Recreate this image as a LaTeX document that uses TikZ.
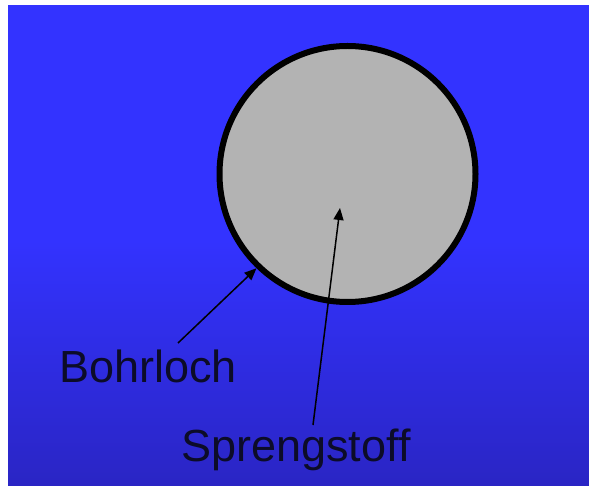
\documentclass[tikz,border=0pt]{standalone}
\usepackage{fontspec}
\setmainfont{Liberation Sans}
\usetikzlibrary{arrows.meta}
\definecolor{bgtop}{RGB}{51,51,255}
\definecolor{bgbot}{RGB}{42,37,196}
\definecolor{holefill}{RGB}{179,179,179}
\definecolor{labeltext}{RGB}{12,12,40}
\tikzset{
  lbl/.style={anchor=base west, inner sep=0pt, font=\fontsize{45}{52}\selectfont, text=labeltext},
  pointer/.style={line width=1.5pt, draw=black, -{Triangle[length=12pt,width=10pt]}},
}
\begin{document}
\begin{tikzpicture}[x=1pt,y=-1pt]
\useasboundingbox (0,0) rectangle (589,486);
\fill[white] (0,0) rectangle (589,486);
\fill[bgtop] (8,5) rectangle (589,241);
\shade[top color=bgtop, bottom color=bgbot] (8,240) rectangle (589,486);
\node[circle, draw=black, line width=6pt, fill=holefill, minimum size=256pt, inner sep=0pt] (hole) at (347.5,174) {};
\node[lbl] (bohr) at (59,382) {Bohrloch};
\node[lbl] (spreng) at (181,461) {Sprengstoff};
\coordinate (bohrtail) at (178,343);
\coordinate (sprengtail) at (313,425);
\coordinate (charge) at (340,208);
\draw[pointer] (bohrtail) -- (hole.226);
\draw[pointer] (sprengtail) -- (charge);
\end{tikzpicture}
\end{document}
